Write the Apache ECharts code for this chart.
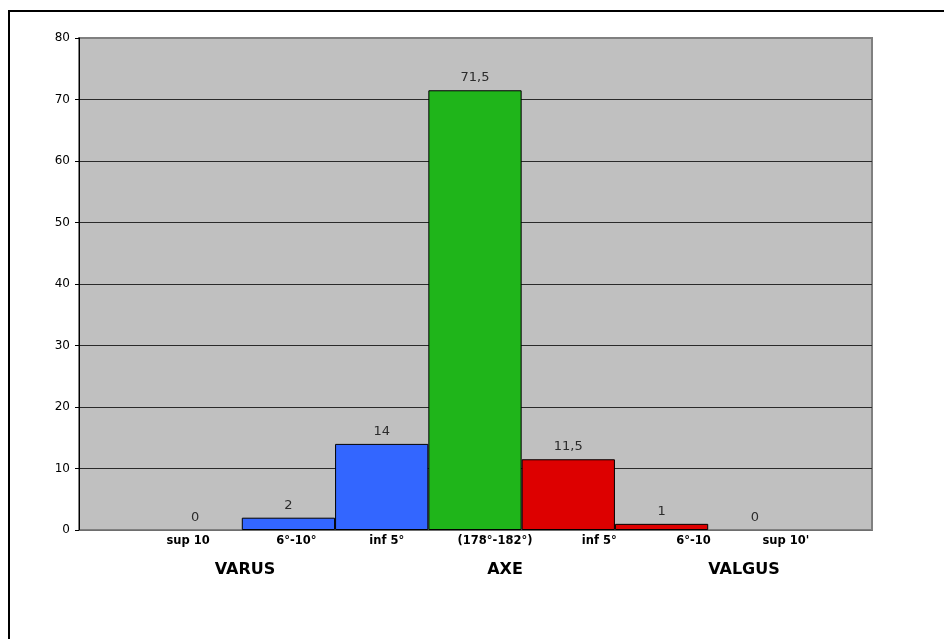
<!DOCTYPE html>
<html>
<head>
<meta charset="utf-8">
<script src="https://cdn.jsdelivr.net/npm/echarts@6/dist/echarts.min.js"></script>
<style>
  html, body { margin: 0; padding: 0; background: #fff; }
  #chart { width: 944px; height: 639px; }
</style>
</head>
<body>
<div id="chart"></div>
<script>
// Distribution of the mechanical axis (percentages)
const categories = ['sup 10', '6°-10°', 'inf 5°', '(178°-182°)', 'inf 5°', '6°-10', "sup 10'"];
const values = [0, 2, 14, 71.5, 11.5, 1, 0];
const barColors = ['#3366ff', '#3366ff', '#3366ff', '#1fb51a', '#dd0000', '#dd0000', '#dd0000'];
const groups = ['VARUS', 'AXE', 'VALGUS'];
const yTicks = { min: 0, max: 80, interval: 10 };

// horizontal nudges of the category captions (px)
const captionShift = [-7, 8, 5, 20, 31, 32, 31];
const captionRich = {};
captionShift.forEach(function (s, i) {
  captionRich['c' + i] = {
    fontFamily: 'DejaVu Sans', fontWeight: 'bold', fontSize: 11.5, color: '#000',
    padding: s >= 0 ? [0, 0, 0, 2 * s] : [0, -2 * s, 0, 0]
  };
});

const groupX = [245, 505, 744];

const chart = echarts.init(document.getElementById('chart'), null, { renderer: 'canvas' });
chart.setOption({
  animation: false,
  backgroundColor: '#ffffff',
  grid: [
    { left: 79, right: 72, top: 38, bottom: 109, show: true, backgroundColor: '#c0c0c0',
      borderColor: '#808080', borderWidth: 2 },
    { left: 148.5, right: 142.5, top: 38, bottom: 109 }
  ],
  xAxis: [
    { gridIndex: 0, type: 'value', min: 0, max: 1, axisLabel: { show: false },
      axisTick: { show: false }, splitLine: { show: false },
      axisLine: { show: true, lineStyle: { color: '#6e6e6e', width: 1 } } },
    { gridIndex: 1, type: 'category', data: categories, boundaryGap: true,
      axisLine: { show: false }, axisTick: { show: false },
      axisLabel: { interval: 0, margin: 5,
        formatter: function (v, i) { return '{c' + i + '|' + v + '}'; },
        rich: captionRich } }
  ],
  yAxis: [
    { gridIndex: 0, type: 'value', min: yTicks.min, max: yTicks.max, interval: yTicks.interval,
      axisLine: { show: true, lineStyle: { color: '#000', width: 1 } },
      axisTick: { show: true, length: 4, lineStyle: { color: '#000' } },
      axisLabel: { margin: 9, fontFamily: 'DejaVu Sans', fontSize: 12, color: '#000' },
      splitLine: { show: true, showMinLine: false, showMaxLine: false,
        lineStyle: { color: '#2a2a2a', width: 1 } } },
    { gridIndex: 1, type: 'value', min: yTicks.min, max: yTicks.max, interval: yTicks.interval,
      show: false, splitLine: { show: false } }
  ],
  series: [{
    type: 'bar',
    xAxisIndex: 1, yAxisIndex: 1,
    barWidth: '100%',
    data: values.map(function (v, i) {
      return { value: v, itemStyle: { color: barColors[i], borderWidth: v === 0 ? 0 : 1 } };
    }),
    itemStyle: { borderColor: '#000', borderWidth: 1 },
    label: {
      show: true, position: 'top', distance: 6,
      fontFamily: 'DejaVu Sans', fontSize: 13, color: '#2b2b2b',
      formatter: function (p) { return String(p.value).replace('.', ','); }
    }
  }],
  graphic: [
    // frame: only its top and left edges fall inside the page
    { type: 'polyline', silent: true, z: 100,
      shape: { points: [[9, 800], [9, 11], [1100, 11]] },
      style: { fill: 'none', stroke: '#000', lineWidth: 2 } }
  ].concat(groups.map(function (g, i) {
    return { type: 'text', silent: true, z: 100,
      style: { text: g, x: groupX[i], y: 570, textAlign: 'center', textVerticalAlign: 'middle',
        font: 'bold 16px "DejaVu Sans"', fill: '#000' } };
  }))
});
</script>
</body>
</html>
